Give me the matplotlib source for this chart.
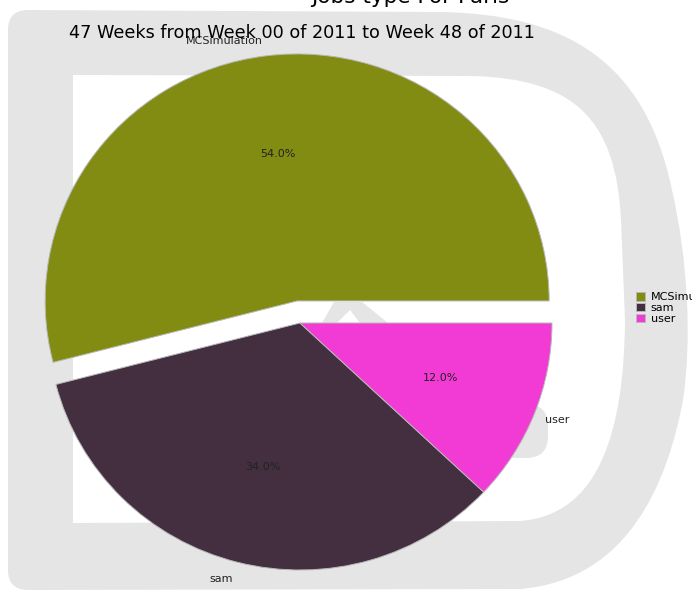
import matplotlib
matplotlib.use("Agg")
import matplotlib.pyplot as plt
from matplotlib.path import Path
from matplotlib.patches import PathPatch, Polygon, FancyBboxPatch

# ---- data ----
categories = ["MCSimulation", "sam", "user"]
shares = [54.0, 34.0, 12.0]
colors = ["#828c12", "#432f40", "#f23ad4"]
explode = [0.09, 0.0, 0.0]
title = "Jobs type For Paris"
subtitle = "47 Weeks from Week 00 of 2011 to Week 48 of 2011"

W, H = 692, 591
fig = plt.figure(figsize=(W / 100, H / 100), dpi=100, facecolor="white")

# ---- background watermark (pixel coordinates) ----
bg = fig.add_axes([0, 0, 1, 1], zorder=0)
bg.set_xlim(0, W)
bg.set_ylim(H, 0)
bg.axis("off")
gray = "#e5e5e5"

M, L, C4, C3, Z = Path.MOVETO, Path.LINETO, Path.CURVE4, Path.CURVE3, Path.CLOSEPOLY
outer_v = [(28, 10), (440, 12),
           (565, 14), (645, 60), (672, 190),
           (688, 260), (692, 340), (683, 400),
           (668, 480), (630, 580), (520, 589),
           (28, 590),
           (8, 590), (8, 570),
           (8, 30),
           (8, 10), (28, 10),
           (28, 10)]
outer_c = [M, L, C4, C4, C4, C4, C4, C4, C4, C4, C4, L, C3, C3, L, C3, C3, Z]
bg.add_patch(PathPatch(Path(outer_v, outer_c), facecolor=gray, edgecolor="none"))

inner_v = [(73, 75), (470, 76),
           (575, 78), (616, 120), (621, 220),
           (625, 320),
           (624, 430), (600, 515), (520, 521),
           (73, 523), (73, 75)]
inner_c = [M, L, C4, C4, C4, L, C4, C4, C4, L, Z]
bg.add_patch(PathPatch(Path(inner_v, inner_c), facecolor="white", edgecolor="none"))

bg.add_patch(Polygon([(322, 323), (334, 302), (362, 302), (388, 323)],
                     closed=True, facecolor=gray, edgecolor="none"))
bg.add_patch(Polygon([(337, 323), (350, 310), (360, 323)],
                     closed=True, facecolor="white", edgecolor="none"))
bg.add_patch(FancyBboxPatch((495, 404), 53, 54, boxstyle="round,pad=0,rounding_size=22",
                            facecolor=gray, edgecolor="none"))

# ---- pie ----
ax = fig.add_axes([0, 0, 1, 1], zorder=1)
ax.patch.set_alpha(0)
wedges, texts, autotexts = ax.pie(
    shares, labels=categories, colors=colors, explode=explode,
    startangle=0, counterclock=True, autopct="%1.1f%%",
    pctdistance=0.6, labeldistance=1.07,
    wedgeprops=dict(edgecolor="#b8b8b8", linewidth=0.7),
    textprops=dict(fontsize=8, color="#222222"))
cx, cy, rx, ry = 300, 323, 252, 247
ax.set_aspect("auto")
ax.set_xlim(-cx / rx, (W - cx) / rx)
ax.set_ylim(-(H - cy) / ry, cy / ry)
ax.axis("off")
# fine-tune outer label positions to match the reference
tx, ty = texts[2].get_position()
texts[2].set_position((tx - 6 / rx, ty))
tx, ty = texts[0].get_position()
texts[0].set_position((tx, ty - 2 / ry))

ax.legend(wedges, categories, loc="center left", bbox_to_anchor=(632 / W, 1 - 308 / H),
          frameon=False, fontsize=8, handlelength=0.8, handleheight=0.8,
          labelspacing=0.05, handletextpad=0.5, borderaxespad=0)

fig.text(410 / W, 1 - 3 / H, title, ha="center", va="baseline", fontsize=15.5)
fig.text(302 / W, 1 - 33 / H, subtitle, ha="center", va="center", fontsize=12.7)

fig.savefig("out.png", dpi=100, facecolor="white")
